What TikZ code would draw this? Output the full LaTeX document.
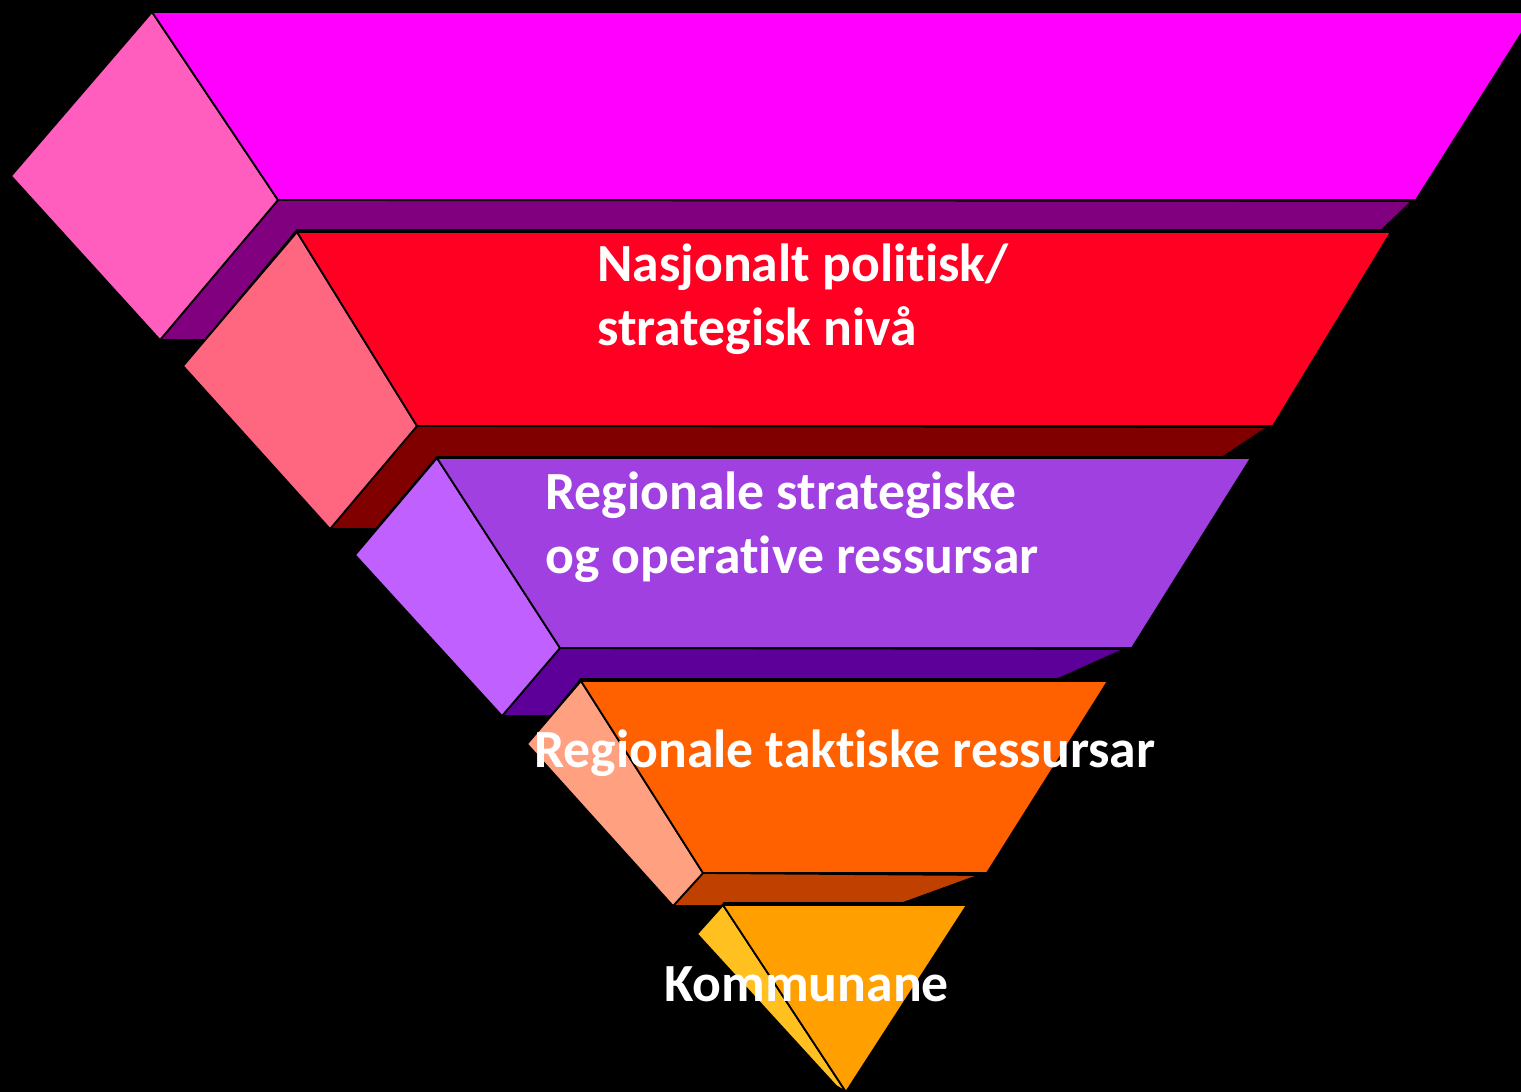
\documentclass[tikz,border=0pt]{standalone}
\usepackage{fontspec}
\setmainfont{Carlito}[Ligatures={TeX,NoCommon}]
\definecolor{magF}{HTML}{FF00FF}
\definecolor{magL}{HTML}{FF5EBE}
\definecolor{magB}{HTML}{800080}
\definecolor{redF}{HTML}{FF0022}
\definecolor{redL}{HTML}{FF6680}
\definecolor{redB}{HTML}{800000}
\definecolor{vioF}{HTML}{A040E0}
\definecolor{vioL}{HTML}{C060FF}
\definecolor{vioB}{HTML}{5C0099}
\definecolor{oraF}{HTML}{FF6000}
\definecolor{oraL}{HTML}{FFA080}
\definecolor{oraB}{HTML}{C04000}
\definecolor{ambF}{HTML}{FFA000}
\definecolor{ambL}{HTML}{FFC020}
\begin{document}
\begin{tikzpicture}[x=1pt,y=-1pt,
  face/.style={draw=black, line width=1.8pt, line join=miter},
  lbl/.style={anchor=base west, inner sep=0pt, text=white,
    font=\fontsize{53.7}{64}\selectfont\bfseries}]
\path[use as bounding box] (0,0) rectangle (1521,1092);
\clip (0,0) rectangle (1521,1092);
\fill[black] (0,0) rectangle (1521,1092);
% layer 1
\filldraw[face, fill=magB] (278,200) -- (1412,201) -- (1382,230) -- (297,230) -- (205,340) -- (160,340) -- cycle;
\filldraw[face, fill=magL] (152,12) -- (11,176) -- (160,340) -- (278,200) -- cycle;
\filldraw[face, fill=magF] (152,12) -- (1535,12) -- (1416,200) -- (278,200) -- cycle;
% layer 2
\filldraw[face, fill=redB] (417,426) -- (1268,427) -- (1223,457) -- (437,457) -- (376,529) -- (330,529) -- cycle;
\filldraw[face, fill=redL] (297,232) -- (183,366) -- (330,529) -- (417,426) -- cycle;
\filldraw[face, fill=redF] (297,232) -- (1391,232) -- (1273,426) -- (417,426) -- cycle;
% layer 3
\filldraw[face, fill=vioB] (560,648) -- (1125,649) -- (1058,679) -- (581,679) -- (551,716) -- (502,716) -- cycle;
\filldraw[face, fill=vioL] (437,458) -- (355,555) -- (502,716) -- (560,648) -- cycle;
\filldraw[face, fill=vioF] (437,458) -- (1251,458) -- (1132,648) -- (560,648) -- cycle;
% layer 4
\filldraw[face, fill=oraB] (703,873) -- (980,875) -- (903,903) -- (724,903) -- (722,906) -- (673,906) -- cycle;
\filldraw[face, fill=oraL] (581,681) -- (527,744) -- (673,906) -- (703,873) -- cycle;
\filldraw[face, fill=oraF] (581,681) -- (1108,681) -- (987,873) -- (703,873) -- cycle;
% layer 5
\filldraw[face, fill=ambL] (723,905) -- (697,934) -- (836,1086) -- (846,1092) -- cycle;
\filldraw[face, fill=ambF] (723,905) -- (967,905) -- (846,1092) -- cycle;
% labels
\node[lbl] (t1a) at (597,281) {Nasjonalt politisk/};
\node[lbl] (t1b) at (597,345) {strategisk nivå};
\node[lbl] (t2a) at (545,509) {Regionale strategiske};
\node[lbl] (t2b) at (545,573) {og operative ressursar};
\node[lbl] (t3) at (534,767) {Regionale taktiske ressursar};
\node[lbl] (t4) at (664,1001) {Kommunane};
\end{tikzpicture}
\end{document}
